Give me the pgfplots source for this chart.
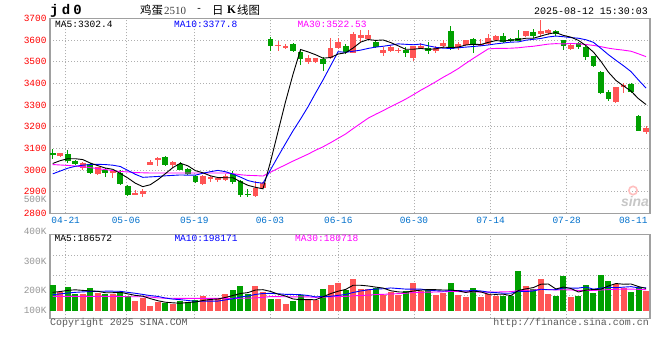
\documentclass[border=0pt]{standalone}
\usepackage{fontspec}
\setmainfont{Liberation Mono}
\newfontfamily\cjk{Noto Sans CJK SC}
\newfontfamily\serifd{Liberation Serif}
\newfontfamily\sansf{Liberation Sans}
\usepackage{pgfplots}
\pgfplotsset{compat=1.18}
\usepackage{pgfplotstable}

\definecolor{upc}{RGB}{255,85,85}
\definecolor{dnc}{RGB}{0,160,0}
\definecolor{framec}{RGB}{160,160,160}
\definecolor{gridc}{RGB}{175,175,175}
\definecolor{datec}{RGB}{0,112,204}
\definecolor{labgray}{RGB}{150,150,150}
\definecolor{ma10c}{RGB}{0,0,255}
\definecolor{ma30c}{RGB}{255,0,255}

% rising days: index, open, high, low, close, volume (K)
\pgfplotstableread{
i O H L C V
1 3066 3080 3058 3077 164
4 3008 3035 3000 3032 144
6 2980 3016 2976 3015 149
8 2984 2998 2963 2995 144
11 2886 2909 2885 2893 86
12 2889 2912 2877 2904 106
13 3024 3047 3022 3039 40
14 3047 3058 3020 3055 72
16 3023 3040 3010 3035 57
20 2933 2976 2930 2971 129
21 2959 2971 2944 2967 103
22 2952 2967 2945 2962 103
23 2956 2980 2950 2974 144
27 2882 2949 2876 2915 212
28 2915 2945 2912 2938 160
30 3575 3595 3548 3578 100
31 3568 3580 3558 3571 57
34 3500 3530 3490 3515 105
35 3500 3517 3495 3515 90
37 3515 3611 3512 3565 218
38 3565 3611 3558 3589 241
40 3541 3635 3538 3628 273
41 3611 3645 3590 3624 187
42 3606 3648 3602 3625 187
44 3541 3566 3527 3555 135
45 3551 3575 3544 3566 160
46 3550 3564 3539 3553 138
48 3517 3572 3503 3570 241
49 3564 3585 3558 3573 172
51 3547 3570 3540 3562 135
52 3573 3602 3562 3585 155
54 3564 3589 3554 3581 135
55 3575 3601 3570 3598 121
57 3574 3605 3572 3582 121
58 3581 3626 3577 3610 141
59 3600 3624 3597 3618 129
63 3617 3643 3614 3640 212
65 3627 3692 3615 3640 273
66 3630 3650 3622 3645 141
69 3559 3580 3554 3577 115
75 3314 3384 3308 3381 230
76 3381 3402 3353 3394 192
79 3176 3203 3167 3194 172
}\upT

% falling days
\pgfplotstableread{
i O H L C V
0 3080 3097 3050 3067 221
2 3075 3090 3030 3040 204
3 3040 3045 3022 3026 144
5 3028 3033 2982 2987 195
7 2998 3008 2969 2984 144
9 2985 2998 2930 2937 161
10 2925 2932 2881 2885 126
15 3061 3064 3020 3023 63
17 3027 3035 2998 3002 86
18 3005 3010 2976 2982 77
19 2971 2976 2938 2944 92
24 2982 2997 2936 2944 178
25 2947 2952 2877 2883 212
26 2891 2914 2873 2883 144
29 3603 3615 3550 3572 100
32 3580 3588 3544 3549 86
33 3546 3554 3485 3512 134
36 3512 3520 3457 3490 187
39 3574 3580 3537 3544 178
43 3592 3601 3564 3568 192
47 3553 3569 3522 3541 172
50 3562 3592 3533 3547 187
53 3640 3665 3555 3560 241
56 3603 3610 3538 3575 192
60 3617 3630 3586 3590 129
61 3605 3611 3589 3595 129
62 3608 3648 3595 3597 342
64 3637 3650 3611 3618 184
67 3641 3646 3620 3627 126
68 3599 3602 3556 3574 298
70 3584 3590 3560 3568 126
71 3566 3570 3508 3522 221
72 3526 3528 3474 3481 155
73 3452 3456 3350 3355 307
74 3360 3367 3320 3328 255
77 3396 3400 3357 3362 164
78 3250 3252 3178 3181 201
}\dnT

% moving averages: price MA5 MA10 MA30, volume MA5 MA10 MA30 (K)
\pgfplotstableread{
i M5 M10 M30 V5 V10 V30
0 3030 2982 3025 158 138 123
1 3043 2995 3023 165 145 123
2 3052 3008 3021 175 152 123
3 3052 3017 3018 180 158 123
4 3048 3022 3015 175 162 123
5 3032 3025 3011 170 165 123
6 3020 3026 3006 167 167 123
7 3009 3025 3002 155 168 123
8 3003 3022 2997 155 168 123
9 2984 3016 2993 159 167 123
10 2963 2998 2991 145 158 120
11 2939 2980 2988 132 150 120
12 2923 2966 2987 125 140 120
13 2932 2968 2986 104 130 118
14 2955 2970 2986 86 123 110
15 2983 2973 2986 73 109 108
16 3011 2975 2986 68 100 107
17 3031 2977 2986 64 95 106
18 3019 2976 2986 71 88 106
19 2997 2976 2986 75 81 106
20 2987 2985 2986 88 81 106
21 2973 2992 2986 97 83 106
22 2965 2998 2986 101 83 106
23 2964 2992 2986 114 93 106
24 2964 2981 2983 131 103 106
25 2946 2967 2978 148 118 107
26 2929 2951 2975 156 127 108
27 2920 2943 2974 178 140 110
28 2913 2939 2972 181 148 115
29 3038 3001 2990 166 149 122
30 3177 3062 3007 143 146 121
31 3315 3122 3024 126 141 120
32 3442 3181 3041 101 140 119
33 3556 3235 3057 95 138 120
34 3545 3292 3073 96 131 119
35 3532 3355 3091 94 119 115
36 3516 3416 3107 120 123 117
37 3519 3481 3126 147 124 119
38 3535 3546 3146 168 132 122
39 3541 3543 3166 183 140 123
40 3563 3548 3191 219 157 128
41 3590 3553 3215 219 170 131
42 3602 3561 3239 213 180 134
43 3598 3567 3257 203 186 139
44 3600 3571 3274 195 189 141
45 3588 3576 3292 172 196 144
46 3573 3582 3309 162 191 147
47 3557 3580 3327 159 186 150
48 3557 3578 3347 169 186 156
49 3561 3581 3368 177 186 158
50 3557 3573 3387 182 177 160
51 3559 3566 3407 181 172 161
52 3567 3562 3428 178 169 163
53 3565 3561 3447 178 174 166
54 3567 3564 3468 171 174 165
55 3577 3567 3492 157 170 162
56 3580 3570 3515 169 175 163
57 3579 3573 3537 162 170 160
58 3589 3577 3559 142 160 160
59 3597 3582 3561 141 156 161
60 3595 3586 3561 142 150 162
61 3599 3590 3562 130 150 164
62 3602 3591 3564 174 168 173
63 3608 3599 3568 188 165 175
64 3608 3603 3571 199 170 178
65 3618 3607 3576 228 185 184
66 3628 3614 3581 230 180 182
67 3634 3618 3583 187 181 179
68 3621 3615 3582 204 196 181
69 3613 3611 3584 191 195 179
70 3598 3608 3582 161 195 174
71 3574 3601 3579 177 204 175
72 3544 3589 3575 183 185 174
73 3501 3561 3569 185 195 178
74 3451 3532 3562 213 202 182
75 3413 3506 3557 234 198 184
76 3388 3481 3553 228 203 186
77 3364 3454 3548 230 207 186
78 3329 3415 3536 208 197 184
79 3302 3378 3523 192 198 181
}\maT

\pgfplotsset{
  kbase/.style={
    scale only axis, width=600bp,
    xmin=-0.36, xmax=79.53,
    axis line style={framec, line width=1.4bp},
    major tick length=0pt,
    grid style={gridc, line width=0.9bp, dash pattern=on 1bp off 2bp},
    xmajorgrids, ymajorgrids,
    xtick={1.73,9.76,18.85,28.93,38.03,48.1,58.3,68.44},
    tick label style={font=\fontsize{9.5}{11}\selectfont},
    clip=true,
  },
  errb/.style 2 args={draw=none, mark=none,
    error bars/.cd, y dir=both, y explicit,
    error bar style={draw=#1, line width=#2}, error mark=none},
}

\begin{document}
\begin{tikzpicture}[x=1bp,y=1bp,font=\fontsize{9.6}{11}\selectfont]
\fill[white] (0,0) rectangle (660,360);

% ---------------- price panel ----------------
\begin{axis}[kbase, at={(50bp,146.7bp)}, anchor=south west, height=195bp,
  ymin=2800, ymax=3700,
  ytick={2800,2900,...,3700},
  yticklabels={2800,2900,3000,3100,3200,3300,3400,3500,3600,3700},
  yticklabel style={red},
  xticklabels={04-21,05-06,05-19,06-03,06-16,06-30,07-14,07-28},
  xticklabel style={datec},
  extra x ticks={77.3}, extra x tick labels={08-11},
  extra x tick style={grid=none, xticklabel style={datec}},
]
\addplot[errb={upc}{1bp}] table[x=i, y expr={(\thisrow{H}+\thisrow{L})/2}, y error expr={(\thisrow{H}-\thisrow{L})/2}] {\upT};
\addplot[errb={dnc}{1bp}] table[x=i, y expr={(\thisrow{H}+\thisrow{L})/2}, y error expr={(\thisrow{H}-\thisrow{L})/2}] {\dnT};
\addplot[errb={upc}{5.8bp}] table[x=i, y expr={(\thisrow{O}+\thisrow{C})/2}, y error expr={max(abs(\thisrow{C}-\thisrow{O})/2,2.4)}] {\upT};
\addplot[errb={dnc}{5.8bp}] table[x=i, y expr={(\thisrow{O}+\thisrow{C})/2}, y error expr={max(abs(\thisrow{C}-\thisrow{O})/2,2.4)}] {\dnT};
\addplot[ma30c, line width=0.9bp, mark=none] table[x=i, y=M30] {\maT};
\addplot[ma10c, line width=0.9bp, mark=none] table[x=i, y=M10] {\maT};
\addplot[black, line width=0.9bp, mark=none] table[x=i, y=M5] {\maT};
\end{axis}

% ---------------- volume panel ----------------
\begin{axis}[kbase, at={(50bp,41.7bp)}, anchor=south west, height=84bp,
  ymin=-65.4, ymax=657.8,
  ytick={135.2,307.4,479.6}, yticklabels={,,},
  xticklabels={,,,,,,,},
  extra y ticks={6,172,425}, extra y tick labels={100K,200K,300K},
  extra y tick style={grid=none, yticklabel style={labgray}},
]
\addplot[errb={upc}{6bp}] table[x=i, y expr={\thisrow{V}/2}, y error expr={\thisrow{V}/2}] {\upT};
\addplot[errb={dnc}{6bp}] table[x=i, y expr={\thisrow{V}/2}, y error expr={\thisrow{V}/2}] {\dnT};
\addplot[ma30c, line width=0.9bp, mark=none] table[x=i, y=V30] {\maT};
\addplot[ma10c, line width=0.9bp, mark=none] table[x=i, y=V10] {\maT};
\addplot[black, line width=0.9bp, mark=none] table[x=i, y=V5] {\maT};
\end{axis}

% ---------------- texts ----------------
\node[anchor=west, inner sep=0] at (50,349) {\fontsize{14}{14}\selectfont\bfseries j\hspace{3.2bp}d\hspace{3.2bp}0};
\node[anchor=west, inner sep=0] at (140,350) {\fontsize{11.5}{12}\selectfont\cjk 鸡蛋};
\node[anchor=west, inner sep=0, black!75] at (164,349.5) {\fontsize{11}{12}\selectfont\serifd 2510};
\node[anchor=west, inner sep=0] at (196,350) {\fontsize{10}{12}\selectfont -};
\node[anchor=west, inner sep=0] at (212,350) {\fontsize{11.5}{12}\selectfont\cjk 日};
\node[anchor=west, inner sep=0] at (227,350) {\fontsize{11.5}{12}\selectfont\serifd\bfseries K};
\node[anchor=west, inner sep=0] at (237,350) {\fontsize{11.5}{12}\selectfont\cjk 线图};
\node[anchor=east, inner sep=0] at (648,349) {\fontsize{10}{12}\selectfont 2025-08-12 15:30:03};

\node[anchor=west, inner sep=0] at (55,336) {MA5:3302.4};
\node[anchor=west, inner sep=0, ma10c] at (174,336) {MA10:3377.8};
\node[anchor=west, inner sep=0, ma30c] at (297.5,336) {MA30:3522.53};

\node[anchor=west, inner sep=0] at (54.5,121.7) {MA5:186572};
\node[anchor=west, inner sep=0, ma10c] at (174.3,121.7) {MA10:198171};
\node[anchor=west, inner sep=0, ma30c] at (295,121.7) {MA30:180718};

\node[anchor=east, inner sep=0, labgray] at (46.7,129) {\fontsize{9.5}{11}\selectfont 400K};
\node[anchor=east, inner sep=0, labgray] at (46.7,160.3) {\fontsize{9.5}{11}\selectfont 500K};

\draw[red!25, line width=1.6bp] (633,169.5) circle (4.2);
\node[anchor=center, inner sep=0, black!22] at (635,158.5) {\fontsize{14}{14}\selectfont\sansf\bfseries\itshape sina};

\node[anchor=west, inner sep=0, black!65] at (50,37) {\fontsize{10}{12}\selectfont Copyright 2025 SINA.COM};
\node[anchor=east, inner sep=0, black!65] at (649,37) {\fontsize{10}{12}\selectfont http://finance.sina.com.cn};
\pgfresetboundingbox
\useasboundingbox (0,0) rectangle (660,360);
\end{tikzpicture}
\end{document}
